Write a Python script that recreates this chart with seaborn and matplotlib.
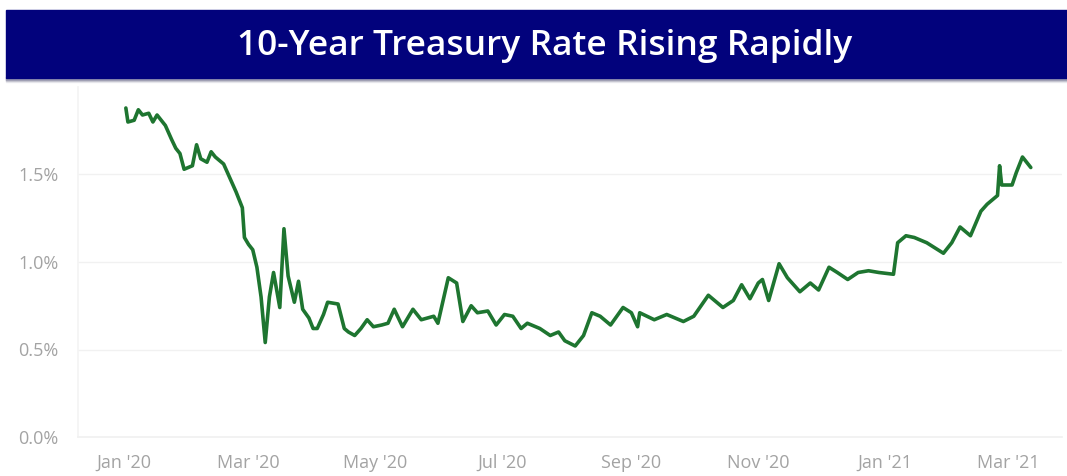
import matplotlib
matplotlib.use("Agg")
import matplotlib.pyplot as plt
from matplotlib.patches import Rectangle
import seaborn as sns
import pandas as pd

title = "10-Year Treasury Rate Rising Rapidly"

dates = [
    "2020-01-02", "2020-01-03", "2020-01-06", "2020-01-08", "2020-01-10", "2020-01-13",
    "2020-01-15", "2020-01-17", "2020-01-21", "2020-01-24", "2020-01-26", "2020-01-28",
    "2020-01-30", "2020-02-01", "2020-02-03", "2020-02-05", "2020-02-07", "2020-02-10",
    "2020-02-12", "2020-02-14", "2020-02-18", "2020-02-21", "2020-02-24", "2020-02-26",
    "2020-02-27", "2020-02-28", "2020-03-01", "2020-03-03", "2020-03-05", "2020-03-07",
    "2020-03-09", "2020-03-11", "2020-03-13", "2020-03-16", "2020-03-18", "2020-03-20",
    "2020-03-23", "2020-03-25", "2020-03-27", "2020-03-30", "2020-04-01", "2020-04-03",
    "2020-04-06", "2020-04-08", "2020-04-13", "2020-04-16", "2020-04-18", "2020-04-21",
    "2020-04-24", "2020-04-27", "2020-04-30", "2020-05-04", "2020-05-07", "2020-05-10",
    "2020-05-14", "2020-05-19", "2020-05-23", "2020-05-29", "2020-05-31", "2020-06-05",
    "2020-06-09", "2020-06-12", "2020-06-16", "2020-06-19", "2020-06-24", "2020-06-28",
    "2020-07-02", "2020-07-06", "2020-07-10", "2020-07-13", "2020-07-19", "2020-07-24",
    "2020-07-28", "2020-07-31", "2020-08-05", "2020-08-09", "2020-08-13", "2020-08-17",
    "2020-08-22", "2020-08-28", "2020-09-01", "2020-09-04", "2020-09-05", "2020-09-12",
    "2020-09-18", "2020-09-26", "2020-10-01", "2020-10-08", "2020-10-15", "2020-10-20",
    "2020-10-24", "2020-10-28", "2020-11-01", "2020-11-03", "2020-11-06", "2020-11-11",
    "2020-11-15", "2020-11-21", "2020-11-26", "2020-11-30", "2020-12-05", "2020-12-09",
    "2020-12-14", "2020-12-19", "2020-12-24", "2020-12-29", "2021-01-05", "2021-01-07",
    "2021-01-11", "2021-01-15", "2021-01-21", "2021-01-29", "2021-02-02", "2021-02-06",
    "2021-02-11", "2021-02-16", "2021-02-19", "2021-02-24", "2021-02-25", "2021-02-26",
    "2021-03-03", "2021-03-05", "2021-03-08", "2021-03-12",
]
rates = [
    1.88, 1.80, 1.81, 1.87, 1.84, 1.85,
    1.80, 1.84, 1.78, 1.70, 1.65, 1.62,
    1.53, 1.54, 1.55, 1.67, 1.59, 1.57,
    1.63, 1.60, 1.56, 1.48, 1.40, 1.34,
    1.31, 1.14, 1.10, 1.07, 0.97, 0.80,
    0.54, 0.80, 0.94, 0.74, 1.19, 0.92,
    0.77, 0.89, 0.73, 0.68, 0.62, 0.62,
    0.70, 0.77, 0.76, 0.62, 0.60, 0.58,
    0.62, 0.67, 0.63, 0.64, 0.65, 0.73,
    0.63, 0.73, 0.67, 0.69, 0.65, 0.91,
    0.88, 0.66, 0.75, 0.71, 0.72, 0.64,
    0.70, 0.69, 0.62, 0.65, 0.62, 0.58,
    0.60, 0.55, 0.52, 0.58, 0.71, 0.69,
    0.64, 0.74, 0.71, 0.63, 0.71, 0.67,
    0.70, 0.66, 0.69, 0.81, 0.74, 0.78,
    0.87, 0.79, 0.88, 0.90, 0.78, 0.99,
    0.91, 0.83, 0.88, 0.84, 0.97, 0.94,
    0.90, 0.94, 0.95, 0.94, 0.93, 1.11,
    1.15, 1.14, 1.11, 1.05, 1.11, 1.20,
    1.15, 1.29, 1.33, 1.38, 1.55, 1.44,
    1.44, 1.51, 1.60, 1.54,
]

tick_dates = ["2020-01-01", "2020-03-01", "2020-05-01", "2020-07-01",
              "2020-09-01", "2020-11-01", "2021-01-01", "2021-03-01"]
tick_labels = ["Jan '20", "Mar '20", "May '20", "Jul '20",
               "Sep '20", "Nov '20", "Jan '21", "Mar '21"]
y_ticks = [0.0, 0.5, 1.0, 1.5]
y_tick_labels = ["0.0%", "0.5%", "1.0%", "1.5%"]

df = pd.DataFrame({"date": pd.to_datetime(dates), "rate": rates})

sns.set_theme(style="white")
plt.rcParams["font.family"] = ["Open Sans", "DejaVu Sans"]

W, H = 1067, 476
fig = plt.figure(figsize=(W / 100, H / 100), dpi=100)
fig.patch.set_facecolor("white")

# Title band with soft shadow
for i, c in enumerate(["#ececf0", "#cfcfd8", "#a0a0b4"]):
    fig.patches.append(Rectangle((6 / W, (H - 82 + i) / H), 1 - 6 / W, 3 / H,
                                 transform=fig.transFigure, color=c, zorder=0))
fig.patches.append(Rectangle((6 / W, (H - 78) / H), 1 - 6 / W, 68 / H,
                             transform=fig.transFigure, color="#02027c", zorder=1))
fig.text(545 / W, (H - 46) / H, title, color="white", fontsize=25.5,
         fontweight="semibold", ha="center", va="center")

ax = fig.add_axes([78 / W, (H - 437) / H, (1062 - 78) / W, (437 - 87) / H])
sns.lineplot(data=df, x="date", y="rate", ax=ax, color="#1e7530", linewidth=2.6)

ax.set_xlim(pd.Timestamp("2019-12-10"), pd.Timestamp("2021-03-27"))
ax.set_ylim(0, 2.0)
ax.set_xticks(pd.to_datetime(tick_dates))
ax.set_xticklabels(tick_labels)
ax.set_yticks(y_ticks)
ax.set_yticklabels(y_tick_labels)
ax.tick_params(axis="both", length=0, colors="#a3a3a3", labelsize=13)
ax.tick_params(axis="x", pad=12)
ax.tick_params(axis="y", pad=14)
ax.set_xlabel("")
ax.set_ylabel("")
ax.grid(axis="y", color="#f1f1f1", linewidth=1)
ax.grid(axis="x", visible=False)
for side in ["top", "right"]:
    ax.spines[side].set_visible(False)
ax.spines["bottom"].set_color("#f1f1f1")
ax.spines["left"].set_color("#f4f4f4")

fig.savefig("out.png", dpi=100, facecolor="white")
